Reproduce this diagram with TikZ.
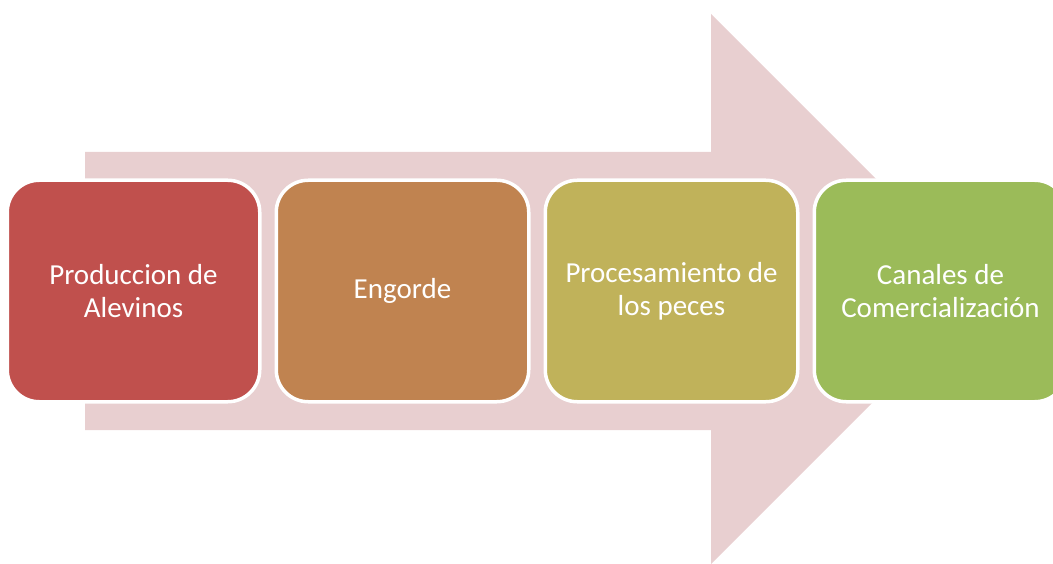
\documentclass[tikz,border=0pt]{standalone}
\usepackage{fontspec}
\setmainfont{Carlito}
\usetikzlibrary{positioning}
\definecolor{arrowpink}{HTML}{E8CFD0}
\definecolor{stagered}{HTML}{C0504D}
\definecolor{stagebrown}{HTML}{C08350}
\definecolor{stageolive}{HTML}{C0B25A}
\definecolor{stagegreen}{HTML}{9BBB59}
\tikzset{stage/.style={draw=white, line width=3.5pt, rounded corners=32pt, outer sep=0pt,
    minimum width=252.5pt, minimum height=221.5pt, align=center, text=white,
    font=\fontsize{29}{33}\selectfont}}

\begin{document}
\begin{tikzpicture}[x=1pt, y=-1pt]
      \useasboundingbox (0,0) rectangle (1053,564);
      % big arrow behind the stages
      \fill[arrowpink] (85,152) -- (711,152) -- (711,14) -- (986,289)
      -- (711,564) -- (711,430) -- (85,430) -- cycle;

      \node[stage, fill=stagered] (alevinos) at (133.5,291) {Produccion de\\Alevinos};
      \node[stage, fill=stagebrown] (engorde) [right=16.5pt of alevinos] {Engorde};
      \node[stage, fill=stageolive] (proceso) [right=16.5pt of engorde] {Procesamiento de\\los peces};
      \node[stage, fill=stagegreen] (canales) [right=16.5pt of proceso] {Canales de\\Comercialización};
    \end{tikzpicture}
\end{document}
